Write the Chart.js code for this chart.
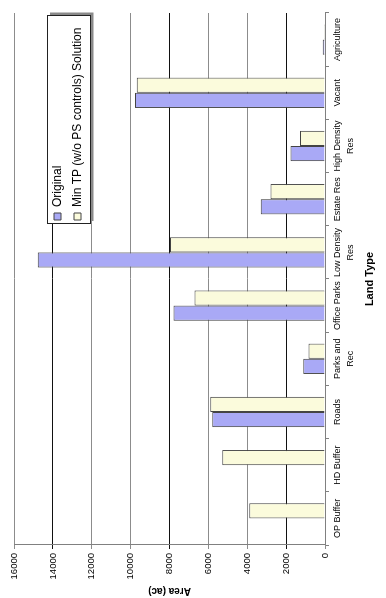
<!DOCTYPE html>
<html>
<head>
<meta charset="utf-8">
<script src="https://cdn.jsdelivr.net/npm/chart.js@4.4.1/dist/chart.umd.min.js"></script>
<style>
  html, body { margin: 0; padding: 0; background: #fff; overflow: hidden; }
  /* the chart is drawn upright, then turned a quarter turn to the left */
  #wrap {
    position: absolute; left: 0; top: 0;
    width: 598px; height: 386px;
    transform-origin: 0 0;
    transform: translateY(598px) rotate(-90deg);
  }
</style>
</head>
<body>
<div id="wrap"><canvas id="myChart" width="598" height="386"></canvas></div>
<script>
// data
const landTypes = ['OP Buffer', 'HD Buffer', 'Roads', ['Parks and', 'Rec'], 'Office Parks',
  ['Low Density', 'Res'], 'Estate Res', ['High Density', 'Res'], 'Vacant', 'Agriculture']
const original = [0, 0, 5800, 1120, 7800, 14780, 3300, 1770, 9780, 110]
const minTP = [3900, 5280, 5900, 850, 6720, 7980, 2800, 1290, 9690, 50]
const areaTicks = [0, 2000, 4000, 6000, 8000, 10000, 12000, 14000, 16000]

Chart.defaults.font.family = '"Liberation Sans", Arial, sans-serif'
Chart.defaults.color = '#000'

// legend sits inside the plot in a white box with a shadow
const legendBox = {
  id: 'legendBox',
  afterLayout(chart) {
    const lg = chart.legend
    lg.left = 370
    lg.top = 43.5
    lg.right = 592
    lg.bottom = 110
  },
  afterDraw(chart) {
    const c = chart.ctx
    c.save()
    c.fillStyle = '#8a8a8a'
    c.fillRect(377, 50, 208.5, 43.5)
    c.fillStyle = '#fff'
    c.fillRect(374, 47, 208.5, 43.5)
    c.strokeStyle = '#222'
    c.lineWidth = 1
    c.strokeRect(374.5, 47.5, 208, 43)
    c.restore()
    chart.legend.draw()
  }
}

const ctx = document.getElementById('myChart').getContext('2d')
const myChart = new Chart(ctx, {
  type: 'bar',
  data: {
    labels: landTypes,
    datasets: [{
      label: 'Original',
      data: original,
      backgroundColor: '#a9a9f6',
      borderColor: '#444',
      borderWidth: 1,
    }, {
      label: 'Min TP (w/o PS controls) Solution',
      data: minTP,
      backgroundColor: '#fbfbdc',
      borderColor: '#444',
      borderWidth: 1,
    }]
  },
  options: {
    responsive: false,
    animation: false,
    layout: { padding: { top: 14, right: 13, left: 0, bottom: 0 } },
    datasets: {
      bar: { categoryPercentage: 0.57, barPercentage: 1, borderSkipped: 'start' }
    },
    scales: {
      x: {
        offset: true,
        grid: { drawOnChartArea: false, offset: true, tickLength: 4, color: '#808080' },
        border: { color: '#808080' },
        ticks: {
          autoSkip: false, maxRotation: 0, minRotation: 0, padding: 1.5,
          font: { size: 9, lineHeight: 1.45 }
        },
        title: {
          display: true, text: 'Land Type',
          font: { size: 11, weight: 'bold' },
          padding: { top: 0, bottom: 9.4 }
        },
        afterFit: (s) => { s.height = 61 }
      },
      y: {
        min: 0,
        max: 16000,
        afterBuildTicks: (s) => { s.ticks = areaTicks.map(v => ({ value: v })) },
        grid: {
          tickLength: 4,
          color: (c) => [2000, 8000, 14000].includes(c.tick && c.tick.value) ? '#111' : '#8c8c8c'
        },
        border: { color: '#808080' },
        ticks: { padding: 4, font: { size: 9.5 }, callback: (v) => String(v) },
        title: {
          display: true, text: 'Area (ac)',
          font: { size: 10, weight: 'bold' },
          padding: { top: 1, bottom: 0 }
        },
        afterFit: (s) => { s.width = 53 }
      }
    },
    plugins: {
      legend: {
        position: 'chartArea',
        align: 'start',
        labels: { boxWidth: 7, boxHeight: 7, padding: 8, font: { size: 12 } }
      },
      tooltip: { enabled: false }
    }
  },
  plugins: [legendBox]
})
</script>
</body>
</html>
